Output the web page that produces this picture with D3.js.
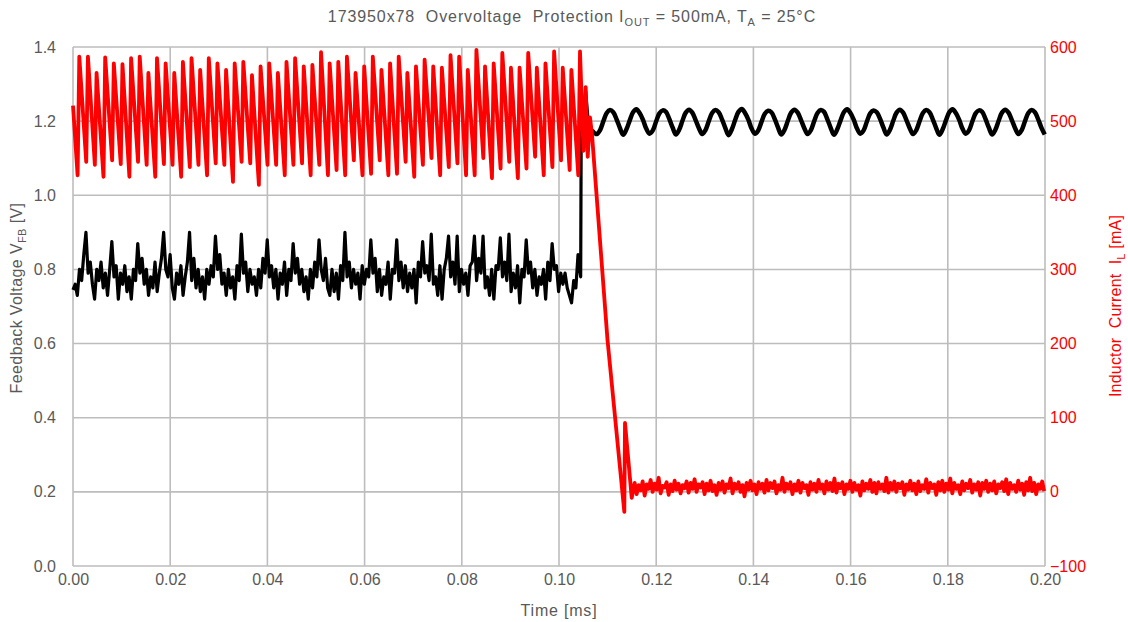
<!DOCTYPE html>
<html><head><meta charset="utf-8">
<script src="https://cdn.jsdelivr.net/npm/d3@7"></script>
<style>body{margin:0;background:#fff}svg{display:block}</style>
</head><body>
<svg id="c" width="1128" height="622"></svg>
<script>
// ---------------- DATA ----------------
const xTicks = [0, 0.02, 0.04, 0.06, 0.08, 0.10, 0.12, 0.14, 0.16, 0.18, 0.20];
const vTicks = [0, 0.2, 0.4, 0.6, 0.8, 1.0, 1.2, 1.4];
const iTicks = [-100, 0, 100, 200, 300, 400, 500, 600];

// Inductor current before the fault: switching period, peaks & valleys (mA)
const redFirstPeakT = 0.0012963;   // ms
const redPeriod = 0.0017763;       // ms
const redRiseTime = 0.00035;       // ms, valley -> peak
const redStart = [0, 521];
const redPeaks = [587,587,565,586,578,577,585,587,565,585,578,565,580,585,569,585,578,569,578,580,
                  562,574,578,565,580,585,574,576,593,578,580,587,565,574,587,569,578,587,565,574,
                  583,574,572,589,587,569,596,574,578,592,572,572,592,572,578,594,572,569,594];
const redValleys = [427,445,441,425,447,442,425,445,441,425,442,441,425,438,441,427,443,441,418,445,
                    443,414,441,441,427,441,443,427,441,427,434,427,447,427,429,447,427,429,445,425,
                    441,450,427,438,443,427,427,450,423,436,445,423,436,452,427,438,447,434,427];
// Collapse of the inductor current (time ms, mA)
const redDropT = [0.10504, 0.10549, 0.10591, 0.10638, 0.10679, 0.10998, 0.11344, 0.11358, 0.11496];
const redDropV = [460, 546, 452, 505, 482, 205, -27, 93, -8];
// Residual current after the fault (mA), sampled every redNoiseStep from redNoiseT0
const redNoiseT0 = 0.11557;
const redNoiseStep = 0.000411;
const redNoise = [12,-3,9,2,14,-5,10,4,16,0,11,3,19,-2,8,6,13,-4,10,1,
                  15,3,11,-2,9,5,14,-1,12,4,17,0,10,6,13,-3,11,2,15,1,
                  9,-4,12,3,14,-1,10,5,18,-2,11,4,13,0,9,-6,12,3,15,2,
                  10,-3,13,4,11,-1,16,2,12,5,14,-2,9,3,19,0,11,4,13,-3,
                  10,2,15,-1,12,5,9,-4,13,3,11,0,16,4,10,-2,14,3,12,1,
                  18,-1,11,5,13,-3,10,4,15,0,12,3,9,-5,14,2,11,4,16,0,
                  12,-2,13,4,10,1,19,-1,12,3,14,0,11,5,13,-4,10,3,15,2,
                  11,-3,14,1,9,4,17,-1,12,5,10,-4,13,2,15,0,11,3,18,-2,
                  12,4,9,-3,14,2,11,5,16,-1,10,3,13,-5,12,4,15,0,11,2,
                  14,-2,10,5,13,1,17,-3,12,4,9,0,15,3,11,-4,13,2,19,1,
                  12,-3,10,4,14,1];

// Feedback voltage before the fault (V), sampled every vfbStep from 0
const vfbStep = 0.00044408;
const vfbPre = [
  0.745,0.76,0.73,0.80,0.77,0.84,0.90,0.79,0.82,0.76,0.72,0.80,
  0.77,0.82,0.75,0.79,0.73,0.80,0.875,0.78,0.81,0.72,0.79,0.76,
  0.81,0.74,0.78,0.72,0.80,0.77,0.87,0.79,0.83,0.76,0.80,0.73,
  0.78,0.75,0.82,0.74,0.79,0.83,0.90,0.80,0.78,0.84,0.75,0.72,
  0.79,0.76,0.81,0.73,0.78,0.82,0.90,0.77,0.83,0.75,0.80,0.74,
  0.78,0.72,0.80,0.76,0.81,0.78,0.89,0.80,0.84,0.76,0.79,0.73,
  0.80,0.75,0.78,0.72,0.81,0.77,0.895,0.79,0.82,0.74,0.80,0.76,
  0.78,0.73,0.80,0.75,0.83,0.79,0.88,0.78,0.81,0.75,0.80,0.72,
  0.79,0.76,0.82,0.73,0.80,0.77,0.87,0.79,0.83,0.76,0.80,0.74,
  0.78,0.72,0.80,0.75,0.82,0.78,0.88,0.80,0.77,0.83,0.75,0.73,
  0.80,0.74,0.79,0.72,0.81,0.77,0.90,0.78,0.82,0.75,0.80,0.76,
  0.79,0.72,0.81,0.76,0.80,0.78,0.88,0.79,0.83,0.74,0.80,0.73,
  0.78,0.76,0.82,0.72,0.80,0.79,0.88,0.77,0.82,0.75,0.81,0.74,
  0.79,0.75,0.80,0.71,0.82,0.78,0.875,0.79,0.81,0.77,0.895,0.76,
  0.78,0.73,0.81,0.72,0.80,0.83,0.89,0.78,0.82,0.76,0.89,0.74,
  0.80,0.76,0.79,0.73,0.81,0.82,0.89,0.77,0.83,0.79,0.89,0.75,
  0.78,0.73,0.80,0.72,0.81,0.80,0.885,0.78,0.82,0.77,0.895,0.74,
  0.79,0.75,0.81,0.71,0.80,0.78,0.88,0.79,0.82,0.75,0.80,0.73,
  0.78,0.76,0.80,0.72,0.82,0.77,0.87,0.80,0.81,0.74,0.79,0.76,
  0.79,0.75,0.73,0.71,0.77,0.75,0.84,0.79];
// Jump of the feedback voltage (time ms, V)
const vfbJumpT = [0.10446, 0.10459, 0.10494, 0.10549, 0.10607, 0.10679];
const vfbJumpV = [0.78, 1.25, 1.19, 1.28, 1.19, 1.175];
// Feedback voltage after the fault (V), sampled every vfbPostStep from vfbPostT0
const vfbPostT0 = 0.10778;
const vfbPostStep = 0.00067775;
const vfbPost = [
  1.165,1.176,1.200,1.222,1.230,1.224,1.205,1.182,
  1.163,1.178,1.202,1.224,1.232,1.222,1.204,1.180,
  1.166,1.175,1.199,1.221,1.229,1.225,1.206,1.183,
  1.164,1.177,1.201,1.223,1.231,1.223,1.203,1.181,
  1.165,1.176,1.200,1.222,1.230,1.224,1.205,1.182,
  1.162,1.178,1.203,1.225,1.233,1.222,1.204,1.180,
  1.166,1.175,1.198,1.220,1.228,1.224,1.206,1.183,
  1.164,1.177,1.201,1.223,1.231,1.223,1.203,1.181,
  1.165,1.176,1.200,1.222,1.230,1.225,1.205,1.182,
  1.163,1.178,1.202,1.224,1.232,1.222,1.204,1.180,
  1.166,1.175,1.199,1.221,1.229,1.224,1.206,1.183,
  1.164,1.177,1.201,1.223,1.231,1.223,1.203,1.181,
  1.165,1.176,1.200,1.222,1.230,1.224,1.205,1.182,
  1.163,1.178,1.202,1.224,1.232,1.222,1.204,1.180,
  1.166,1.175,1.199,1.221,1.229,1.225,1.206,1.183,
  1.164,1.177,1.201,1.223,1.231,1.223,1.203,1.181,
  1.165,1.176,1.200,1.222,1.230,1.224,1.205,1.182,
  1.164];

// ---------------- BUILD SERIES ----------------
const redPts = [redStart];
redPeaks.forEach((p, i) => {
  const tp = redFirstPeakT + i * redPeriod;
  redPts.push([tp - redRiseTime, redValleys[i]]);
  redPts.push([tp, p]);
});
redDropT.forEach((t, i) => redPts.push([t, redDropV[i]]));
redNoise.forEach((v, i) => redPts.push([redNoiseT0 + i * redNoiseStep, v]));

const vfbPts = vfbPre.map((v, i) => [i * vfbStep, v]);
vfbJumpT.forEach((t, i) => vfbPts.push([t, vfbJumpV[i]]));
const vfbPostPts = vfbPost.map((v, i) => [vfbPostT0 + i * vfbPostStep, v]);

// ---------------- DRAW ----------------
const m = {left: 73, right: 1045, top: 47, bottom: 566};
const svg = d3.select("#c");
const x = d3.scaleLinear().domain([0, 0.2]).range([m.left, m.right]);
const yV = d3.scaleLinear().domain([0, 1.4]).range([m.bottom, m.top]);
const yI = d3.scaleLinear().domain([-100, 600]).range([m.bottom, m.top]);
const font = "'Liberation Sans', Arial, sans-serif";
const grey = "#595959";

// grid
const grid = svg.append("g").attr("stroke", "#BDBDBD").attr("stroke-width", 1.6);
vTicks.forEach(d => grid.append("line").attr("x1", m.left).attr("x2", m.right).attr("y1", yV(d)).attr("y2", yV(d)));
xTicks.forEach(d => grid.append("line").attr("x1", x(d)).attr("x2", x(d)).attr("y1", m.top).attr("y2", m.bottom));

// axes (labels only)
const ax = d3.axisBottom(x).tickValues(xTicks).tickFormat(d3.format(".2f")).tickSize(0).tickPadding(8);
const gx = svg.append("g").attr("transform", `translate(0,${m.bottom})`).call(ax);
const al = d3.axisLeft(yV).tickValues(vTicks).tickFormat(d3.format(".1f")).tickSize(0).tickPadding(17);
const gl = svg.append("g").attr("transform", `translate(${m.left},0)`).call(al);
const ar = d3.axisRight(yI).tickValues(iTicks).tickFormat(d3.format("d")).tickSize(0).tickPadding(5);
const gr = svg.append("g").attr("transform", `translate(${m.right},0)`).call(ar);
[gx, gl, gr].forEach(g => { g.select(".domain").remove(); g.selectAll("text").attr("font-family", font).attr("font-size", 16); });
gx.selectAll("text").attr("fill", grey);
gl.selectAll("text").attr("fill", grey);
gr.selectAll("text").attr("fill", "#FF0000");

// lines
const lineV = d3.line().x(d => x(d[0])).y(d => yV(d[1]));
const lineVs = d3.line().x(d => x(d[0])).y(d => yV(d[1])).curve(d3.curveCatmullRom);
const lineI = d3.line().x(d => x(d[0])).y(d => yI(d[1]));
svg.append("path").datum(vfbPts).attr("d", lineV).attr("fill", "none").attr("stroke", "#000").attr("stroke-width", 3.2).attr("stroke-linejoin", "round");
svg.append("path").datum([vfbPts[vfbPts.length - 1]].concat(vfbPostPts)).attr("d", lineVs).attr("fill", "none").attr("stroke", "#000").attr("stroke-width", 4.5).attr("stroke-linejoin", "round");
svg.append("path").datum(redPts).attr("d", lineI).attr("fill", "none").attr("stroke", "#FF0000").attr("stroke-width", 3.8).attr("stroke-linejoin", "round");

// title
const title = svg.append("text").attr("x", 572).attr("y", 22).attr("text-anchor", "middle")
  .attr("font-family", font).attr("font-size", 16).attr("letter-spacing", 0.9).attr("fill", grey).attr("xml:space", "preserve");
title.append("tspan").text("173950x78  Overvoltage  Protection I");
title.append("tspan").attr("font-size", 11).attr("dy", 4).text("OUT");
title.append("tspan").attr("dy", -4).text(" = 500mA, T");
title.append("tspan").attr("font-size", 11).attr("dy", 4).text("A");
title.append("tspan").attr("dy", -4).text(" = 25°C");

// axis titles
svg.append("text").attr("x", 559).attr("y", 616).attr("text-anchor", "middle")
  .attr("font-family", font).attr("font-size", 16).attr("letter-spacing", 0.8).attr("fill", grey).text("Time [ms]");
const lt = svg.append("text").attr("transform", "translate(22,298) rotate(-90)").attr("text-anchor", "middle")
  .attr("font-family", font).attr("font-size", 16).attr("letter-spacing", 0.4).attr("fill", grey);
lt.append("tspan").text("Feedback Voltage V");
lt.append("tspan").attr("font-size", 11).attr("dy", 4).text("FB");
lt.append("tspan").attr("dy", -4).text(" [V]");
const rt = svg.append("text").attr("transform", "translate(1121,306) rotate(-90)").attr("text-anchor", "middle")
  .attr("font-family", font).attr("font-size", 16).attr("letter-spacing", 0.2).attr("fill", "#FF0000").attr("xml:space", "preserve");
rt.append("tspan").text("Inductor  Current  I");
rt.append("tspan").attr("font-size", 11).attr("dy", 4).text("L");
rt.append("tspan").attr("dy", -4).text(" [mA]");
</script>
</body></html>
